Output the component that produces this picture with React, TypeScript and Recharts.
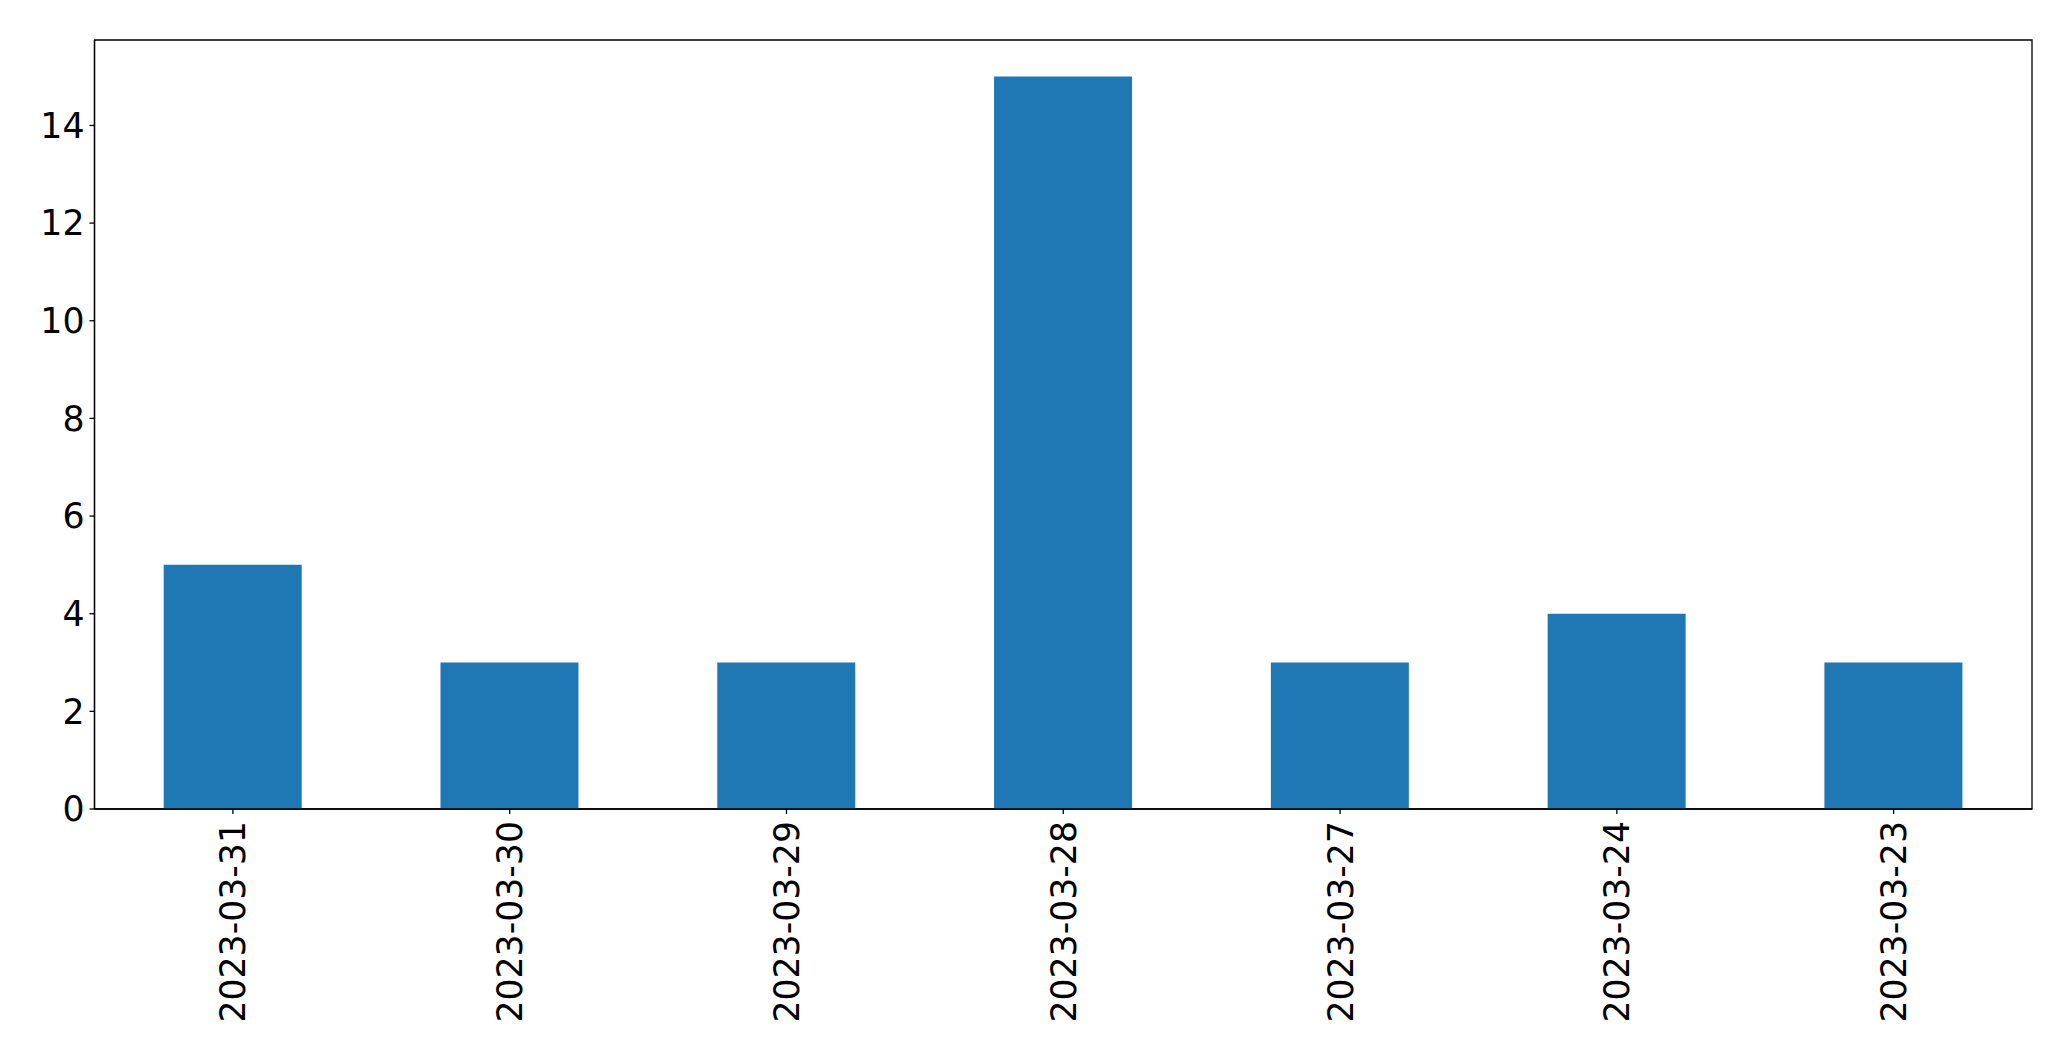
import React from 'react';
import { BarChart, Bar, XAxis, YAxis, ReferenceArea } from 'recharts';

const dates = ['2023-03-31', '2023-03-30', '2023-03-29', '2023-03-28', '2023-03-27', '2023-03-24', '2023-03-23'];
const counts = [5, 3, 3, 15, 3, 4, 3];
const yTicks = [0, 2, 4, 6, 8, 10, 12, 14];
const yMax = 15.75;

const data = dates.map((d, i) => ({ date: d, count: counts[i] }));

const FONT = '"DejaVu Sans", sans-serif';
const FS = 34.7;

function DateTick(props: any) {
  const { x, y, payload } = props;
  return (
    <text
      x={x}
      y={y}
      transform={`rotate(-90, ${x}, ${y})`}
      textAnchor="end"
      dy="0.36em"
      fontSize={FS}
      fontFamily={FONT}
      fill="#000"
    >
      {payload.value}
    </text>
  );
}

export default function App() {
  return (
    <div style={{ position: 'absolute', left: 0, top: 0, background: '#fff' }}>
      <BarChart
        width={2071}
        height={1061}
        data={data}
        margin={{ top: 40, right: 39, left: 0, bottom: 0 }}
        barCategoryGap="25%"
      >
        <XAxis
          dataKey="date"
          height={252}
          interval={0}
          tick={<DateTick />}
          tickSize={5}
          tickMargin={7}
          axisLine={{ stroke: '#000', strokeWidth: 1.3 }}
          tickLine={{ stroke: '#000', strokeWidth: 1.3 }}
        />
        <YAxis
          width={94.5}
          domain={[0, yMax]}
          ticks={yTicks}
          interval={0}
          tickSize={5}
          tickMargin={5}
          tick={{ fontSize: FS, fontFamily: FONT, fill: '#000' }}
          axisLine={{ stroke: '#000', strokeWidth: 1.3 }}
          tickLine={{ stroke: '#000', strokeWidth: 1.3 }}
        />
        <Bar dataKey="count" fill="#1f77b4" isAnimationActive={false} />
        <ReferenceArea
          y1={0}
          y2={yMax}
          fill="none"
          fillOpacity={0}
          stroke="#000"
          strokeWidth={1.3}
          ifOverflow="visible"
        />
      </BarChart>
    </div>
  );
}
